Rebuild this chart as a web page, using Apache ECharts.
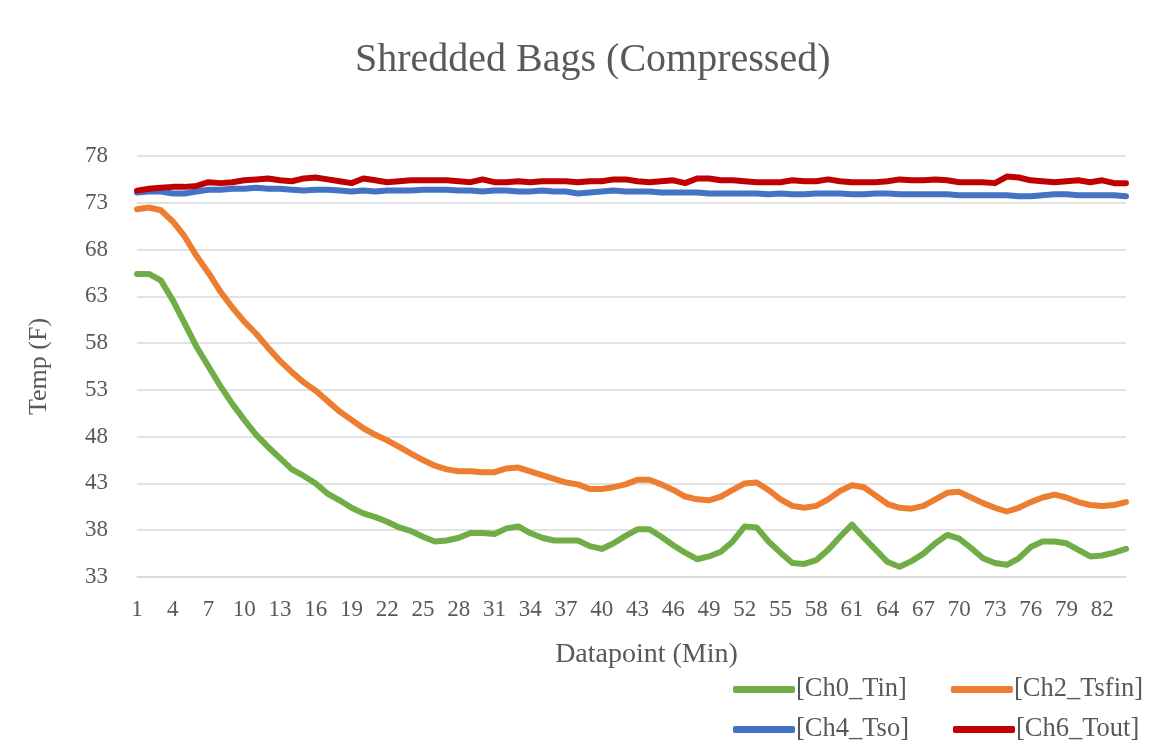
<!DOCTYPE html>
<html>
<head>
<meta charset="utf-8">
<script src="https://cdn.jsdelivr.net/npm/echarts@6/dist/echarts.min.js"></script>
<style>
html,body{margin:0;padding:0;background:#fff;}
#chart{width:1166px;height:751px;}
</style>
</head>
<body>
<div id="chart"></div>
<script>
// datapoints 1..84
var datapoints = [];
for (var i = 1; i <= 84; i++) datapoints.push(String(i));

var ch0Tin = [65.4,65.4,64.7,62.6,60.1,57.6,55.5,53.4,51.5,49.8,48.2,46.9,45.7,44.5,43.8,43.0,41.9,41.2,40.4,39.8,
	39.4,38.9,38.3,37.9,37.3,36.8,36.9,37.2,37.7,37.7,37.6,38.2,38.4,37.7,37.2,36.9,36.9,36.9,36.3,36.0,
	36.6,37.4,38.1,38.1,37.3,36.4,35.6,34.9,35.2,35.7,36.8,38.4,38.3,36.8,35.6,34.5,34.4,34.8,35.9,37.3,
	38.6,37.2,35.9,34.6,34.1,34.7,35.5,36.6,37.5,37.1,36.1,35.0,34.5,34.3,35.0,36.2,36.8,36.8,36.6,35.9,
	35.2,35.3,35.6,36.0];
var ch2Tsfin = [72.3,72.5,72.2,71.0,69.4,67.3,65.5,63.5,61.8,60.3,59.0,57.5,56.1,54.9,53.8,52.9,51.8,50.7,49.8,48.9,
	48.2,47.6,46.9,46.2,45.5,44.9,44.5,44.3,44.3,44.2,44.2,44.6,44.7,44.3,43.9,43.5,43.1,42.9,42.4,42.4,
	42.6,42.9,43.4,43.4,42.9,42.3,41.6,41.3,41.2,41.6,42.3,43.0,43.1,42.3,41.3,40.6,40.4,40.6,41.3,42.2,
	42.8,42.6,41.7,40.8,40.4,40.3,40.6,41.3,42.0,42.1,41.5,40.9,40.4,40.0,40.4,41.0,41.5,41.8,41.5,41.0,
	40.7,40.6,40.7,41.0];
var ch4Tso = [74.1,74.2,74.2,74.0,74.0,74.2,74.4,74.4,74.5,74.5,74.6,74.5,74.5,74.4,74.3,74.4,74.4,74.3,74.2,74.3,
	74.2,74.3,74.3,74.3,74.4,74.4,74.4,74.3,74.3,74.2,74.3,74.3,74.2,74.2,74.3,74.2,74.2,74.0,74.1,74.2,
	74.3,74.2,74.2,74.2,74.1,74.1,74.1,74.1,74.0,74.0,74.0,74.0,74.0,73.9,74.0,73.9,73.9,74.0,74.0,74.0,
	73.9,73.9,74.0,74.0,73.9,73.9,73.9,73.9,73.9,73.8,73.8,73.8,73.8,73.8,73.7,73.7,73.8,73.9,73.9,73.8,
	73.8,73.8,73.8,73.7];
var ch6Tout = [74.3,74.5,74.6,74.7,74.7,74.8,75.2,75.1,75.2,75.4,75.5,75.6,75.4,75.3,75.6,75.7,75.5,75.3,75.1,75.6,
	75.4,75.2,75.3,75.4,75.4,75.4,75.4,75.3,75.2,75.5,75.2,75.2,75.3,75.2,75.3,75.3,75.3,75.2,75.3,75.3,
	75.5,75.5,75.3,75.2,75.3,75.4,75.1,75.6,75.6,75.4,75.4,75.3,75.2,75.2,75.2,75.4,75.3,75.3,75.5,75.3,
	75.2,75.2,75.2,75.3,75.5,75.4,75.4,75.5,75.4,75.2,75.2,75.2,75.1,75.8,75.7,75.4,75.3,75.2,75.3,75.4,
	75.2,75.4,75.1,75.1];

var seriesNames = ['[Ch0_Tin]','[Ch2_Tsfin]','[Ch4_Tso]','[Ch6_Tout]'];
var seriesColors = ['#70AD47','#ED7D31','#4472C4','#C00000'];
var seriesData = [ch0Tin, ch2Tsfin, ch4Tso, ch6Tout];

var serif = '"Liberation Serif","Times New Roman",serif';
var grey = '#595959';

var myChart = echarts.init(document.getElementById('chart'));

var series = [];
for (var s = 0; s < seriesData.length; s++) {
	series.push({
		name: seriesNames[s],
		type: 'line',
		data: seriesData[s],
		showSymbol: false,
		symbol: 'none',
		smooth: false,
		lineStyle: {width: 6, color: seriesColors[s], cap: 'round', join: 'round'},
		itemStyle: {color: seriesColors[s]}
	});
}

var legendBase = {
	icon: 'roundRect',
	itemWidth: 62,
	itemHeight: 7,
	itemGap: 44,
	left: 728,
	textStyle: {fontFamily: serif, fontSize: 26.5, color: grey, padding: [0,0,0,-4]}
};

var option = {
	animation: false,
	backgroundColor: '#fff',
	color: seriesColors,
	title: {
		text: 'Shredded Bags (Compressed)',
		left: 350,
		top: 35,
		textStyle: {fontFamily: serif, fontSize: 40, fontWeight: 'normal', color: grey}
	},
	legend: [
		Object.assign({}, legendBase, {top: 671, data: [seriesNames[0], seriesNames[1]]}),
		Object.assign({}, legendBase, {top: 711, data: [seriesNames[2], seriesNames[3]]})
	],
	grid: {left: 137, right: 40, top: 156, bottom: 174, containLabel: false},
	xAxis: {
		type: 'category',
		data: datapoints,
		boundaryGap: false,
		name: 'Datapoint (Min)',
		nameLocation: 'middle',
		nameGap: 64,
		nameTextStyle: {fontFamily: serif, fontSize: 28, color: grey, padding: [0,0,0,30]},
		axisLine: {show: true, lineStyle: {color: '#d9d9d9', width: 1.5}},
		axisTick: {show: false},
		axisLabel: {interval: 2, fontFamily: serif, fontSize: 23, color: grey, margin: 21},
		splitLine: {show: false}
	},
	yAxis: {
		type: 'value',
		min: 33,
		max: 78,
		interval: 5,
		name: 'Temp (F)',
		nameLocation: 'middle',
		nameGap: 85,
		nameRotate: 90,
		nameTextStyle: {fontFamily: serif, fontSize: 26, color: grey},
		axisLine: {show: false},
		axisTick: {show: false},
		axisLabel: {fontFamily: serif, fontSize: 23, color: grey, margin: 29},
		splitLine: {show: true, lineStyle: {color: '#d9d9d9', width: 1.5}}
	},
	series: series
};

myChart.setOption(option);
</script>
</body>
</html>
